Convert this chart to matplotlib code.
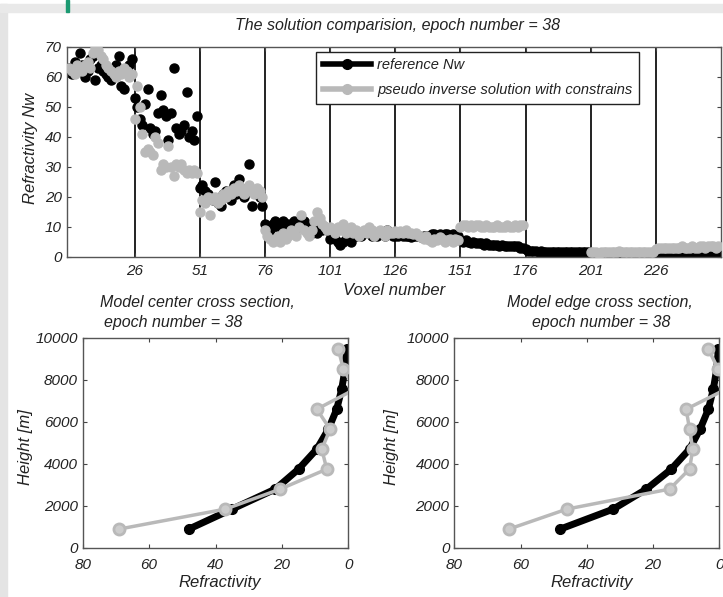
import numpy as np
import matplotlib
matplotlib.use("Agg")
import matplotlib.pyplot as plt
from matplotlib.lines import Line2D
from matplotlib.patches import Rectangle

plt.rcParams['font.family'] = ['Liberation Sans', 'DejaVu Sans']
plt.rcParams['font.style'] = 'italic'
TXT = '#222222'
GRAY = '#b9b9b9'

# ---- top panel data: 250 voxels, 10 blocks of 25 ----
voxel = np.arange(1, 251)
block_starts = [26, 51, 76, 101, 126, 151, 176, 201, 226]

ref_nw = [
    63, 61, 65, 62, 68, 64, 60, 62, 66, 67, 59, 63, 64, 62, 61, 60, 59, 62, 64, 67, 57, 56, 62, 64, 66,
    53, 50, 46, 44, 51, 56, 43, 41, 42, 48, 54, 49, 47, 39, 48, 63, 43, 41, 42, 44, 55, 40, 42, 39, 47,
    23, 24, 22, 21, 20, 19, 25, 18, 17, 21, 22, 20, 19, 24, 21, 26, 22, 20, 23, 31, 17, 22, 21, 20, 17,
    11, 10, 9, 11, 12, 10, 11, 12, 10, 11, 10, 12, 11, 10, 11, 12, 11, 10, 8, 9, 8, 10, 9, 10, 9,
    6, 7, 6, 5, 4, 5, 6, 7, 5, 8, 7, 8, 7, 8, 9, 8, 7, 8, 7, 8, 8, 7, 9, 8, 7,
    7, 7, 7.5, 7, 7, 7, 6.5, 7, 7, 7, 6.5, 7, 7, 7, 7.5, 7.5, 7, 7.5, 7, 7.5, 7.5, 7, 7.5, 7, 7,
    5.5, 5, 5.5, 5, 4.5, 5, 4.5, 4.5, 4.5, 4, 4.5, 4, 4, 4, 4, 3.5, 4, 3.5, 3.5, 3.5, 3.5, 3.5, 3.5, 3, 3,
    2.5, 2, 2, 2, 2, 1.5, 2, 1.5, 1.5, 1.5, 1.5, 1.5, 1.5, 1.5, 1.5, 1.5, 1.5, 1.5, 1.5, 1.5, 1.5, 1.5, 1.5, 1.5, 1.5,
    1.2, 1.2, 1.2, 1.2, 1.2, 1.2, 1.2, 1.2, 1.2, 1.2, 1.2, 1.2, 1.2, 1.2, 1.2, 1.2, 1.2, 1.2, 1.2, 1.2, 1.2, 1.2, 1.2, 1.2, 1.2,
    1.5, 1.5, 1.5, 1.5, 1.5, 1.5, 1.5, 1.5, 1.5, 1.5, 1.5, 1.5, 1.5, 1.5, 1.5, 1.5, 1.5, 1.5, 1.5, 1.5, 1.5, 1.5, 1.5, 1.5, 1.5,
]

pinv_nw = [
    63, 62, 61, 64, 63, 62, 64, 65, 63, 68, 70, 69, 67, 66, 64, 63, 62, 61, 60, 62, 61, 63, 62, 60, 61,
    46, 57, 50, 41, 35, 36, 35, 34, 40, 38, 29, 31, 30, 37, 30, 27, 31, 30, 31, 29, 28, 29, 28, 29, 28,
    15, 19, 18, 20, 14, 19, 20, 18, 19, 21, 20, 22, 21, 23, 22, 24, 22, 21, 23, 24, 22, 21, 23, 22, 20,
    9, 7, 6, 5, 6, 7, 5, 8, 6, 7, 9, 8, 7, 10, 14, 9, 8, 7, 9, 12, 15, 13, 11, 10, 9,
    10, 9, 8, 10, 9, 11, 8, 9, 10, 8, 9, 7, 8, 9, 8, 10, 9, 7, 8, 9, 8, 7, 9, 8, 8,
    8.5, 8, 8.5, 8, 9, 8, 8, 7.5, 8, 7, 6.5, 6, 7, 5.5, 5, 6, 5.5, 6.5, 6, 5, 5.5, 6, 5, 6, 5.5,
    10, 10.5, 10.5, 10, 10.5, 10, 10.5, 10.5, 10, 10, 10.5, 10, 10, 10, 10.5, 10, 10, 10, 10.5, 10, 10, 10.5, 10, 10.5, 10.5,
    np.nan, np.nan, np.nan, np.nan, np.nan, np.nan, np.nan, np.nan, np.nan, np.nan, np.nan, np.nan, np.nan,
    np.nan, np.nan, np.nan, np.nan, np.nan, np.nan, np.nan, np.nan, np.nan, np.nan, np.nan, np.nan,
    1.5, 1.5, 1.5, 1, 1.5, 1.5, 1.5, 1.5, 1.5, 1.5, 1.5, 2, 1.5, 1.5, 1.5, 1.5, 1.5, 1.5, 1.5, 1.5, 1.5, 1.5, 1.5, 1.5, 1.5,
    2.5, 3, 3, 3, 3, 3, 3, 3, 3, 3, 3.5, 3, 3, 3, 3.5, 3, 3, 3.5, 3.5, 3, 3.5, 3.5, 3.5, 3, 3.5,
]

# ---- cross sections ----
height = [900, 1850, 2800, 3750, 4700, 5650, 6600, 7550, 8500, 9450]
center_ref = [48, 35, 22, 15, 9.5, 6, 3.5, 2, 1, 0.5]
center_pinv = [69, 37, 20.5, 6.5, 8, 5.5, 9.5, -2, 1.5, 3]
edge_ref = [48, 32, 22, 14.5, 9, 5.8, 3.3, 1.8, 0.8, 0.3]
edge_pinv = [63.5, 46, 15, 9, 8, 9, 10, -2, 0.3, 3.3]

fig = plt.figure(figsize=(7.23, 5.97), dpi=100)
fig.patch.set_facecolor('white')
# page frame around the card
fig.patches.append(Rectangle((0, 0), 7 / 723, 1 - 4 / 597, transform=fig.transFigure,
                             color='#e4e4e4', zorder=0))
fig.patches.append(Rectangle((0, 1 - 12 / 597), 1, 8 / 597, transform=fig.transFigure,
                             color='#e9e9e9', zorder=0))
fig.patches.append(Rectangle((66 / 723, 1 - 12 / 597), 3 / 723, 12 / 597, transform=fig.transFigure,
                             color='#1c9a72', zorder=1))


def style_axes(ax, xpad=3.5):
    ax.tick_params(direction='in', top=True, right=True, labelsize=11,
                   labelcolor=TXT, length=3, width=0.8, color='#444444')
    ax.tick_params(axis='x', pad=xpad)
    for s in ax.spines.values():
        s.set_color('#555555')
        s.set_linewidth(1.0)


# top panel
ax = fig.add_axes([0.0923, 0.570, 0.905, 0.3518])
for b in block_starts:
    ax.axvline(b, color='#222222', lw=1.4, zorder=1)
ax.plot(voxel, ref_nw, 'o', color='black', ms=6.5, mec='black', zorder=2)
ax.plot(voxel, pinv_nw, 'o', color=GRAY, ms=6.5, mec=GRAY, zorder=3)
ax.set_xlim(0, 251)
ax.set_ylim(0, 70)
ax.set_xticks(block_starts)
ax.set_yticks(range(0, 71, 10))
style_axes(ax, xpad=5)
handles = [Line2D([], [], color='black', lw=4, marker='o', ms=7),
           Line2D([], [], color=GRAY, lw=4, marker='o', ms=7)]
leg = ax.legend(handles, ['reference Nw', 'pseudo inverse solution with constrains'],
                loc='upper left', bbox_to_anchor=(0.3815, 0.975), fontsize=10.5,
                fancybox=False, framealpha=1, edgecolor='#222222', handlelength=3.3,
                borderpad=0.45, labelspacing=0.75, handletextpad=0.4, borderaxespad=0)
leg.get_frame().set_linewidth(1.0)
for t in leg.get_texts():
    t.set_color(TXT)

fig.text(0.5498, 0.958, 'The solution comparision, epoch number = 38', ha='center', va='center',
         fontsize=11.5, color=TXT)
fig.text(0.545, 0.5126, 'Voxel number', ha='center', va='center', fontsize=12, color=TXT)
fig.text(0.0415, 0.752, 'Refractivity Nw', ha='center', va='center', rotation=90,
         fontsize=12, color=TXT)

# lower panels
panels = [
    ([0.1144, 0.0821, 0.3674, 0.3523], center_ref, center_pinv),
    ([0.6284, 0.0821, 0.3665, 0.3523], edge_ref, edge_pinv),
]
for rect, ref, pinv in panels:
    a = fig.add_axes(rect)
    a.plot(ref, height, '-o', color='black', lw=5, ms=7, zorder=2)
    a.plot(pinv, height, '-o', color=GRAY, lw=2.5, ms=8, mfc='#cccccc', mec=GRAY,
           mew=2, zorder=3)
    a.set_xlim(80, 0)
    a.set_ylim(0, 10000)
    a.set_xticks([80, 60, 40, 20, 0])
    a.set_yticks(range(0, 10001, 2000))
    style_axes(a, xpad=7)

fig.text(0.2725, 0.4925, 'Model center cross section,', ha='center', va='center',
         fontsize=11.5, color=TXT)
fig.text(0.2393, 0.459, 'epoch number = 38', ha='center', va='center', fontsize=11.5, color=TXT)
fig.text(0.8299, 0.4925, 'Model edge cross section,', ha='center', va='center',
         fontsize=11.5, color=TXT)
fig.text(0.8322, 0.459, 'epoch number = 38', ha='center', va='center', fontsize=11.5, color=TXT)
fig.text(0.0346, 0.2513, 'Height [m]', ha='center', va='center', rotation=90,
         fontsize=12, color=TXT)
fig.text(0.5418, 0.2513, 'Height [m]', ha='center', va='center', rotation=90,
         fontsize=12, color=TXT)
fig.text(0.3043, 0.0235, 'Refractivity', ha='center', va='center', fontsize=12, color=TXT)
fig.text(0.8184, 0.0235, 'Refractivity', ha='center', va='center', fontsize=12, color=TXT)

fig.savefig('out.png', dpi=100)
